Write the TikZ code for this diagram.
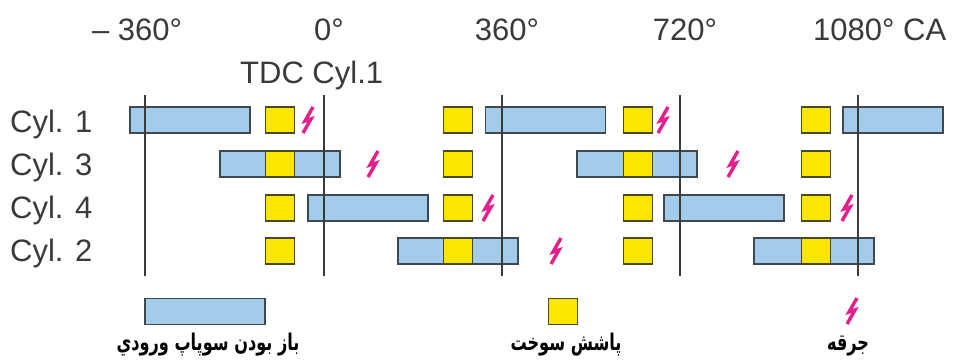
\documentclass[tikz,border=0pt]{standalone}
\usepackage{fontspec}
\setmainfont{Liberation Sans}
\newfontfamily\arabicfont[Script=Arabic,FakeStretch=0.7]{DejaVu Sans}
\TeXXeTstate=1
\definecolor{txt}{HTML}{3A3A3A}
\definecolor{inblue}{RGB}{163,204,235}
\definecolor{boxedge}{HTML}{3E4850}
\definecolor{fuelyellow}{RGB}{250,230,0}
\definecolor{fueledge}{HTML}{4A4A22}
\definecolor{sparkc}{RGB}{226,32,140}
\begin{document}
\begin{tikzpicture}[x=1pt,y=-1pt,
  inbox/.style={draw=boxedge,fill=inblue,line width=1.6pt,minimum width=120pt,minimum height=26pt,inner sep=0pt,outer sep=0pt},
  fuel/.style={draw=fueledge,fill=fuelyellow,line width=1.6pt,minimum width=29pt,minimum height=26pt,inner sep=0pt,outer sep=0pt},
  lbl/.style={text=txt,font=\fontsize{31}{31}\selectfont,inner sep=0pt},
  tdcline/.style={draw=txt,line width=2pt},
  legendtxt/.style={text=black,font=\arabicfont\bfseries\fontsize{23}{23}\selectfont,inner sep=0pt},
  pics/spark/.style={code={\draw[sparkc,line width=3.4pt,line join=miter,line cap=butt] (5,-13) -- (-3,1) -- (3,-1) -- (-5,13);}}
]
\fill[white] (0,0) rectangle (960,360);
\useasboundingbox (0,0) rectangle (960,360);

% top scale labels
\node[lbl,anchor=base] (tm360) at (137,40) {– 360°};
\node[lbl,anchor=base] (t0) at (329,40) {0°};
\node[lbl,anchor=base] (t360) at (507,40) {360°};
\node[lbl,anchor=base] (t720) at (685,40) {720°};
\node[lbl,anchor=base west] (t1080) at (813,40) {1080° CA};
\node[lbl,anchor=base west] (tdc) at (240,83) {TDC Cyl.1};

% row labels
\node[lbl,anchor=base west] (c1) at (10,132) {Cyl. 1};
\node[lbl,anchor=base west] (c3) at (10,175) {Cyl. 3};
\node[lbl,anchor=base west] (c4) at (10,218) {Cyl. 4};
\node[lbl,anchor=base west] (c2) at (10,261) {Cyl. 2};

% intake (blue) boxes
\node[inbox] (b1a) at (190,120) {};
\node[inbox] (b1b) at (545.5,120) {};
\node[inbox,minimum width=100pt] (b1c) at (893,120) {};
\node[inbox] (b3a) at (280,164) {};
\node[inbox] (b3b) at (637,164) {};
\node[inbox] (b4a) at (368,208) {};
\node[inbox] (b4b) at (724,208) {};
\node[inbox] (b2a) at (458,251) {};
\node[inbox] (b2b) at (814,251) {};

% fuel (yellow) boxes
\foreach \r/\yy in {1/120,3/164,4/208,2/251}{
  \node[fuel] (f\r a) at (280,\yy) {};
  \node[fuel] (f\r b) at (458,\yy) {};
  \node[fuel] (f\r c) at (638,\yy) {};
  \node[fuel] (f\r d) at (816,\yy) {};
}

% sparks
\pic at (308,120) {spark};
\pic at (663,120) {spark};
\pic at (373,164) {spark};
\pic at (733,164) {spark};
\pic at (488,208) {spark};
\pic at (847,208) {spark};
\pic at (556,251) {spark};

% vertical TDC lines
\foreach \xx in {145,324,502,680,858}{
  \draw[tdcline] (\xx,95) -- (\xx,276);
}

% legend
\node[inbox] (lgb) at (205,311.5) {};
\node[fuel] (lgy) at (563,311.5) {};
\pic at (852,311) {spark};
\node[legendtxt,anchor=base] (lt1) at (208,350) {\beginR باز بودن سوپاپ ورودي\endR};
\node[legendtxt,anchor=base] (lt2) at (566,350) {\beginR پاشش سوخت\endR};
\node[legendtxt,anchor=base] (lt3) at (848,350) {\beginR جرقه\endR};
\end{tikzpicture}
\end{document}
